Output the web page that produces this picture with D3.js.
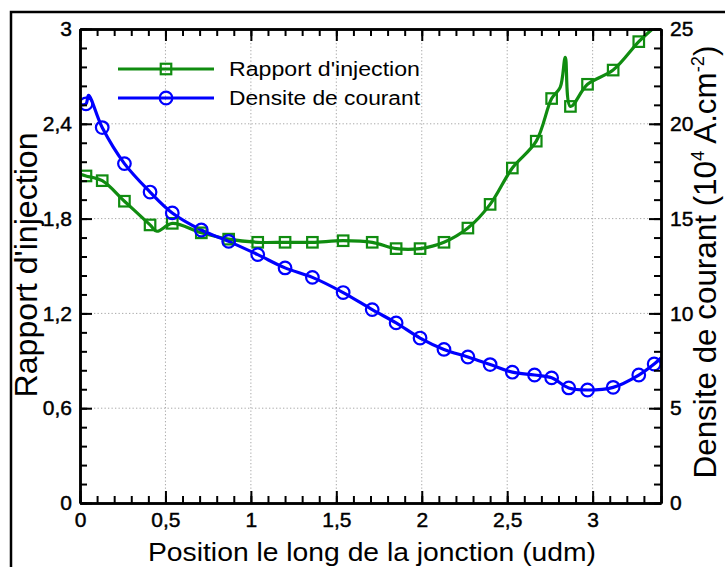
<!DOCTYPE html>
<html>
<head>
<meta charset="utf-8">
<script src="https://cdn.jsdelivr.net/npm/d3@7"></script>
<style>
  html, body { margin: 0; padding: 0; background: #fff; }
  svg { display: block; font-family: "Liberation Sans", Arial, Helvetica, sans-serif; }
</style>
</head>
<body>
<svg id="chart" width="725" height="567"></svg>
<script>
// ---------------- DATA ----------------
// Rapport d'injection (left axis)
const posInjection = [0, 0.035, 0.13, 0.26, 0.41, 0.45, 0.54, 0.71, 0.87, 1.04, 1.20, 1.36, 1.54, 1.71, 1.85, 1.99, 2.13, 2.27, 2.40, 2.53, 2.67, 2.76, 2.81, 2.84, 2.87, 2.97, 3.12, 3.27, 3.35];
const rapportInjection = [2.08, 2.07, 2.04, 1.91, 1.76, 1.72, 1.77, 1.71, 1.67, 1.65, 1.65, 1.65, 1.66, 1.65, 1.61, 1.61, 1.65, 1.74, 1.89, 2.12, 2.29, 2.56, 2.63, 2.82, 2.51, 2.65, 2.74, 2.92, 3.0];
const injectionMarked = [false, true, true, true, true, false, true, true, true, true, true, true, true, true, true, true, true, true, true, true, true, true, false, false, true, true, true, true, false];

// Densite de courant (right axis, 10^4 A.cm^-2)
const posDensite = [0, 0.035, 0.05, 0.13, 0.26, 0.41, 0.54, 0.71, 0.87, 1.04, 1.20, 1.36, 1.54, 1.71, 1.85, 1.99, 2.13, 2.27, 2.40, 2.53, 2.66, 2.76, 2.86, 2.97, 3.12, 3.27, 3.36, 3.40];
const densiteCourant = [21.0, 21.05, 21.5, 19.8, 17.9, 16.4, 15.3, 14.4, 13.8, 13.1, 12.4, 11.9, 11.1, 10.2, 9.5, 8.7, 8.1, 7.7, 7.3, 6.9, 6.75, 6.6, 6.07, 5.96, 6.1, 6.75, 7.33, 7.65];
const densiteMarked = [false, true, false, true, true, true, true, true, true, true, true, true, true, true, true, true, true, true, true, true, true, true, true, true, true, true, true, false];

// Ticks
const xTicks = [0, 0.5, 1, 1.5, 2, 2.5, 3];
const xMinorTicks = d3.range(0, 35).map(i => i / 10);
const yLeftTicks = [0, 0.6, 1.2, 1.8, 2.4, 3];
const yRightTicks = [0, 5, 10, 15, 20, 25];
const yRightMinorTicks = d3.range(0, 26);
const xGrid = [0.5, 1, 1.5, 2, 2.5, 3];
const yGrid = [0.6, 1.2, 1.8, 2.4];

const seriesNames = ["Rapport d'injection", "Densite de courant"];
const xTitle = "Position le long de la jonction (udm)";
const yLeftTitle = "Rapport d'injection";

// ---------------- LAYOUT ----------------
const GREEN = "#108c10";
const BLUE = "#0000ff";
const L = 80, R = 661, T = 29, B = 503;

const svg = d3.select("#chart");

// outer frame
svg.append("rect").attr("x", 11).attr("y", 12).attr("width", 740).attr("height", 600)
  .attr("fill", "none").attr("stroke", "#000").attr("stroke-width", 2.5);

const x = d3.scaleLinear().domain([0, 3.4]).range([L, R]);
const yL = d3.scaleLinear().domain([0, 3]).range([B, T]);
const yR = d3.scaleLinear().domain([0, 25]).range([B, T]);

const fmt = d => String(d).replace(".", ",");

// grid
const grid = svg.append("g").attr("stroke", "#a8a8a8").attr("stroke-width", 1).attr("stroke-dasharray", "1.3,2.2");
grid.selectAll("line.v").data(xGrid).join("line").attr("class", "v")
  .attr("x1", d => x(d)).attr("x2", d => x(d)).attr("y1", T).attr("y2", B);
grid.selectAll("line.h").data(yGrid).join("line").attr("class", "h")
  .attr("x1", L).attr("x2", R).attr("y1", d => yL(d)).attr("y2", d => yL(d));

// clip
svg.append("clipPath").attr("id", "plotclip").append("rect")
  .attr("x", L).attr("y", T).attr("width", R - L).attr("height", B - T);

// lines
const plot = svg.append("g").attr("clip-path", "url(#plotclip)");
const injData = posInjection.map((p, i) => ({ x: p, y: rapportInjection[i], m: injectionMarked[i] }));
const denData = posDensite.map((p, i) => ({ x: p, y: densiteCourant[i], m: densiteMarked[i] }));

const lineInj = d3.line().x(d => x(d.x)).y(d => yL(d.y)).curve(d3.curveCatmullRom.alpha(0.5));
const lineDen = d3.line().x(d => x(d.x)).y(d => yR(d.y)).curve(d3.curveCatmullRom.alpha(0.5));

plot.append("path").datum(injData).attr("d", lineInj)
  .attr("fill", "none").attr("stroke", GREEN).attr("stroke-width", 3.2).attr("stroke-linejoin", "round");
plot.append("path").datum(denData).attr("d", lineDen)
  .attr("fill", "none").attr("stroke", BLUE).attr("stroke-width", 3.2).attr("stroke-linejoin", "round");

const SQ = 10.5, CR = 6.3;
plot.selectAll("rect.mk").data(injData.filter(d => d.m)).join("rect").attr("class", "mk")
  .attr("x", d => x(d.x) - SQ / 2).attr("y", d => yL(d.y) - SQ / 2)
  .attr("width", SQ).attr("height", SQ)
  .attr("fill", "none").attr("stroke", GREEN).attr("stroke-width", 2.2);
plot.selectAll("circle.mk").data(denData.filter(d => d.m)).join("circle").attr("class", "mk")
  .attr("cx", d => x(d.x)).attr("cy", d => yR(d.y)).attr("r", CR)
  .attr("fill", "none").attr("stroke", BLUE).attr("stroke-width", 2.2);

// axes
function styleAxis(g) {
  g.select(".domain").attr("stroke", "#000").attr("stroke-width", 2.5);
  g.selectAll(".tick line").attr("stroke", "#000").attr("stroke-width", 2);
  g.selectAll(".tick text").attr("fill", "#000").attr("stroke", "#000").attr("stroke-width", 0.45)
    .style("font-size", "21px")
    .style("font-family", "'Liberation Sans', Arial, sans-serif");
}
// minor ticks
svg.append("g").attr("transform", `translate(0,${B})`)
  .call(d3.axisBottom(x).tickValues(xMinorTicks).tickSize(-7).tickSizeOuter(0).tickFormat(""))
  .call(styleAxis);
svg.append("g").attr("transform", `translate(0,${T})`)
  .call(d3.axisTop(x).tickValues(xMinorTicks).tickSize(-7).tickSizeOuter(0).tickFormat(""))
  .call(styleAxis);
svg.append("g").attr("transform", `translate(${L},0)`)
  .call(d3.axisLeft(yR).tickValues(yRightMinorTicks).tickSize(-7).tickSizeOuter(0).tickFormat(""))
  .call(styleAxis);
svg.append("g").attr("transform", `translate(${R},0)`)
  .call(d3.axisRight(yR).tickValues(yRightMinorTicks).tickSize(-7).tickSizeOuter(0).tickFormat(""))
  .call(styleAxis);

// major ticks with labels
svg.append("g").attr("transform", `translate(0,${B})`)
  .call(d3.axisBottom(x).tickValues(xTicks).tickSize(-12).tickSizeOuter(0).tickPadding(9).tickFormat(fmt))
  .call(styleAxis);
svg.append("g").attr("transform", `translate(0,${T})`)
  .call(d3.axisTop(x).tickValues(xTicks).tickSize(-12).tickSizeOuter(0).tickFormat(""))
  .call(styleAxis);
svg.append("g").attr("transform", `translate(${L},0)`)
  .call(d3.axisLeft(yL).tickValues(yLeftTicks).tickSize(-12).tickSizeOuter(0).tickPadding(8).tickFormat(fmt))
  .call(styleAxis);
svg.append("g").attr("transform", `translate(${R},0)`)
  .call(d3.axisRight(yR).tickValues(yRightTicks).tickSize(-12).tickSizeOuter(0).tickPadding(9).tickFormat(fmt))
  .call(styleAxis);

// axis titles
svg.append("text").attr("x", (148 + 596) / 2).attr("y", 561).attr("text-anchor", "middle")
  .attr("textLength", 448).attr("lengthAdjust", "spacingAndGlyphs")
  .style("font-size", "25px").attr("fill", "#000").text(xTitle);

svg.append("text").attr("transform", "translate(37,265) scale(1.02,1) rotate(-90)")
  .attr("text-anchor", "middle").attr("textLength", 265).attr("lengthAdjust", "spacingAndGlyphs")
  .style("font-size", "30px").attr("fill", "#000").text(yLeftTitle);

const rt = svg.append("text").attr("transform", "translate(716,262) scale(1.06,1) rotate(-90)")
  .attr("text-anchor", "middle").attr("textLength", 433).attr("lengthAdjust", "spacingAndGlyphs")
  .style("font-size", "29px").attr("fill", "#000");
rt.append("tspan").text("Densite de courant (10");
rt.append("tspan").attr("dy", -11).style("font-size", "17px").text("4");
rt.append("tspan").attr("dy", 11).text(" A.cm");
rt.append("tspan").attr("dy", -11).style("font-size", "17px").text("-2");
rt.append("tspan").attr("dy", 11).text(")");

// legend
const legend = svg.append("g");
const legendRows = [
  { name: seriesNames[0], color: GREEN, shape: "square", y: 69 },
  { name: seriesNames[1], color: BLUE, shape: "circle", y: 98 }
];
legendRows.forEach(r => {
  legend.append("line").attr("x1", 118).attr("x2", 214).attr("y1", r.y).attr("y2", r.y)
    .attr("stroke", r.color).attr("stroke-width", 3.2);
  if (r.shape === "square") {
    legend.append("rect").attr("x", 166 - SQ / 2).attr("y", r.y - SQ / 2).attr("width", SQ).attr("height", SQ)
      .attr("fill", "none").attr("stroke", r.color).attr("stroke-width", 2.2);
  } else {
    legend.append("circle").attr("cx", 166).attr("cy", r.y).attr("r", CR)
      .attr("fill", "none").attr("stroke", r.color).attr("stroke-width", 2.2);
  }
  legend.append("text").attr("x", 229).attr("y", r.y + 7)
    .attr("textLength", 191).attr("lengthAdjust", "spacingAndGlyphs")
    .style("font-size", "20px").attr("fill", "#000").text(r.name);
});
</script>
</body>
</html>
